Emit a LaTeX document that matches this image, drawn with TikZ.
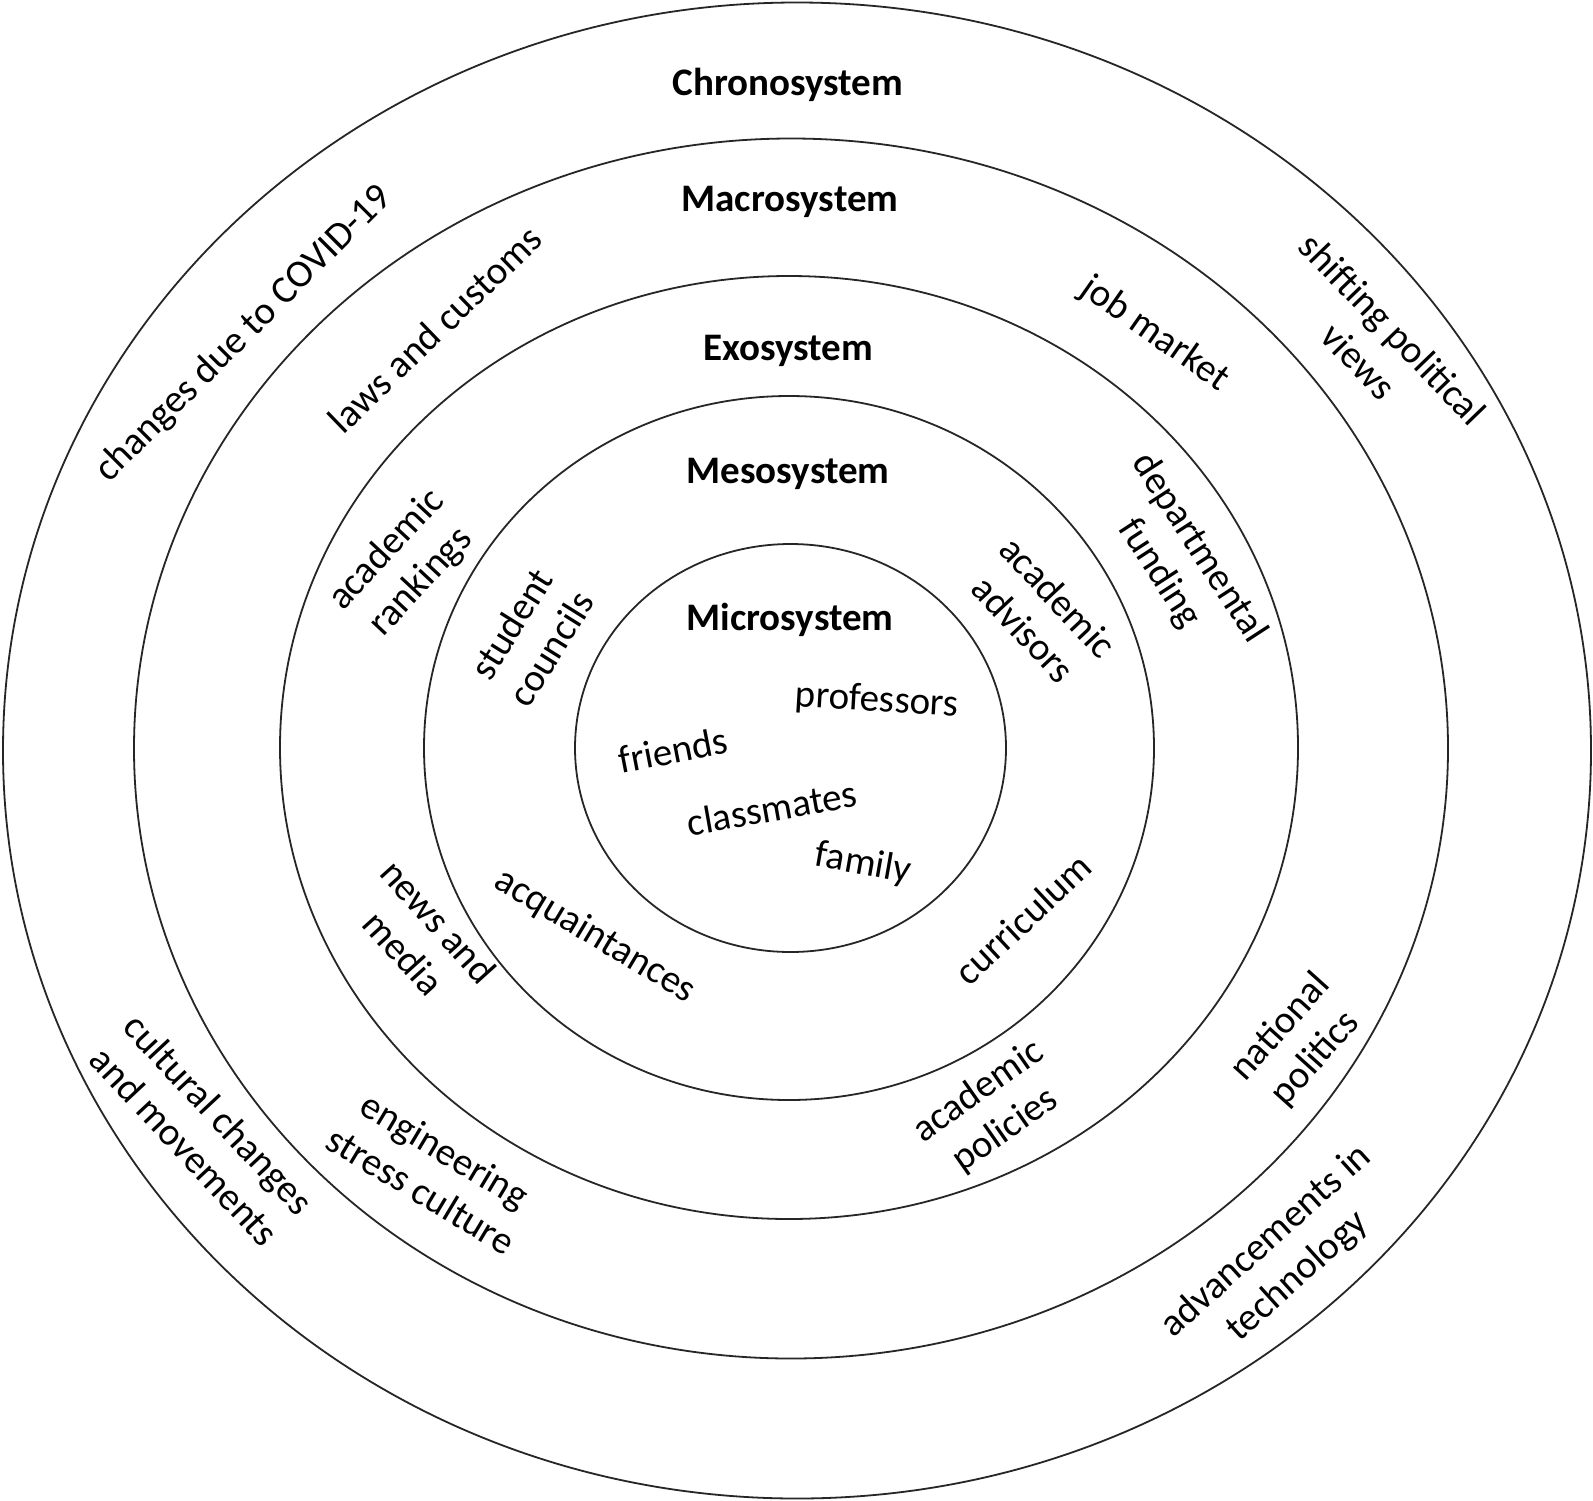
\documentclass[tikz,border=0pt]{standalone}
\usepackage{fontspec}
\setmainfont{Carlito}
\begin{document}
\begin{tikzpicture}[x=1pt,y=-1pt,
  ring/.style={draw=black!85,line width=1.8pt},
  title/.style={font=\fontsize{39}{48}\selectfont\bfseries,inner sep=0pt},
  item/.style={font=\fontsize{39}{47}\selectfont,inner sep=0pt,align=center}]
\useasboundingbox (0,0) rectangle (1593,1500);
\fill[white] (0,0) rectangle (1593,1500);
% rings
\draw[ring] (797,750.5) ellipse [x radius=794pt, y radius=748pt];
\draw[ring] (791,748.5) ellipse [x radius=657pt, y radius=610pt];
\draw[ring] (789,747.5) ellipse [x radius=509pt, y radius=471.5pt];
\draw[ring] (789,748) ellipse [x radius=365pt, y radius=352pt];
\draw[ring] (790.5,748) ellipse [x radius=215.5pt, y radius=204pt];
% titles
\node[title] (chrono) at (788,85) {Chronosystem};
\node[title] (macro) at (790,202) {Macrosystem};
\node[title] (exo) at (788,351) {Exosystem};
\node[title] (meso) at (788,474) {Mesosystem};
\node[title] (micro) at (790,620) {Microsystem};
% microsystem
\node[item,rotate=-3.5] (prof) at (877,701) {professors};
\node[item,rotate=11] (friends) at (673,750) {friends};
\node[item,rotate=10] (class) at (772,808) {classmates};
\node[item,rotate=-10] (family) at (863,864) {family};
% mesosystem
\node[item,rotate=58] (student) at (531,636) {student\\councils};
\node[item,rotate=-47] (advisors) at (1041,613) {academic\\advisors};
\node[item,rotate=-31] (acq) at (595,936) {acquaintances};
\node[item,rotate=43] (curr) at (1023,919) {curriculum};
% exosystem
\node[item,rotate=47] (rank) at (404,566) {academic\\rankings};
\node[item,rotate=-57] (dept) at (1179,561) {departmental\\funding};
\node[item,rotate=-48] (news) at (421,937) {news and\\media};
\node[item,rotate=35] (policies) at (992,1111) {academic\\policies};
% macrosystem
\node[item,rotate=44] (laws) at (435,329) {laws and customs};
\node[item,rotate=-35] (job) at (1155,334) {job market};
\node[item,rotate=-31] (eng) at (433,1170) {engineering\\stress culture};
\node[item,rotate=48] (nat) at (1298,1043) {national\\politics};
% chronosystem
\node[item,rotate=45] (covid) at (244,334) {changes due to COVID-19};
\node[item,rotate=-46] (shift) at (1376,345) {shifting political\\views};
\node[item,rotate=-47] (cult) at (202,1130) {cultural changes\\and movements};
\node[item,rotate=42] (tech) at (1282,1259) {advancements in\\technology};
\end{tikzpicture}
\end{document}
